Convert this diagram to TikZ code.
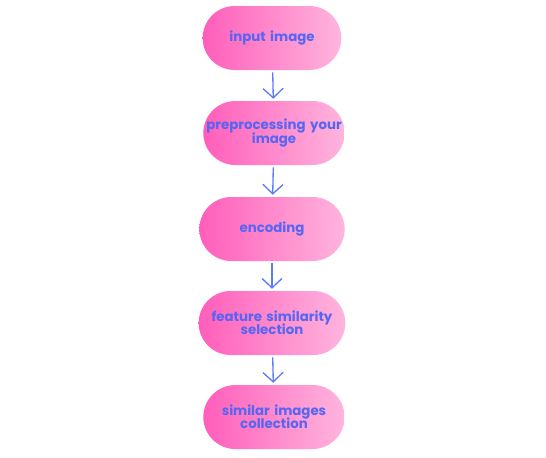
\documentclass[tikz,border=0pt]{standalone}
\usepackage{fontspec}
\setmainfont{Poppins}
\usepackage{xcolor}
\usepackage{tikz}
\usetikzlibrary{calc,arrows.meta}

\definecolor{pinkL}{HTML}{FF5EBA}
\definecolor{pinkR}{HTML}{FFB5DE}
\definecolor{txtblue}{HTML}{5566F2}
\definecolor{arrblue}{HTML}{5B7CF7}

\newcommand{\stagefont}{\fontsize{10}{10}\selectfont\bfseries\lineskiplimit=-6pt\relax}

\tikzset{
  stage/.style={rounded corners=24pt, minimum width=106pt, minimum height=48pt,
    left color=pinkL, right color=pinkR, draw=none, text=txtblue,
    font=\stagefont, text width=104pt, align=center, inner sep=0pt},
  flow/.style={arrblue, line width=1pt, -{Straight Barb[length=7pt,width=15pt,line width=1pt]},
    shorten <=1.5pt, shorten >=1.5pt}
}

\begin{document}
\begin{tikzpicture}[x=0.75pt,y=-0.75pt]
      \useasboundingbox (0,0) rectangle (546,457);

      \node[stage, minimum width=104pt] (inp) at (272,38) {input image};
      \node[stage] (pre) at (274,133) {preprocessing your\\image};
      \node[stage, minimum width=109pt] (enc) at (272,229) {encoding};
      \node[stage, minimum width=110pt] (fea) at (272,323) {feature similarity\\selection};
      \node[stage] (sim) at (274,417) {similar images\\collection};

      \draw[flow] (inp) -- (pre);
      \draw[flow] (pre) -- (enc);
      \draw[flow] (enc) -- (fea);
      \draw[flow] (fea) -- (sim);
\end{tikzpicture}
\end{document}
